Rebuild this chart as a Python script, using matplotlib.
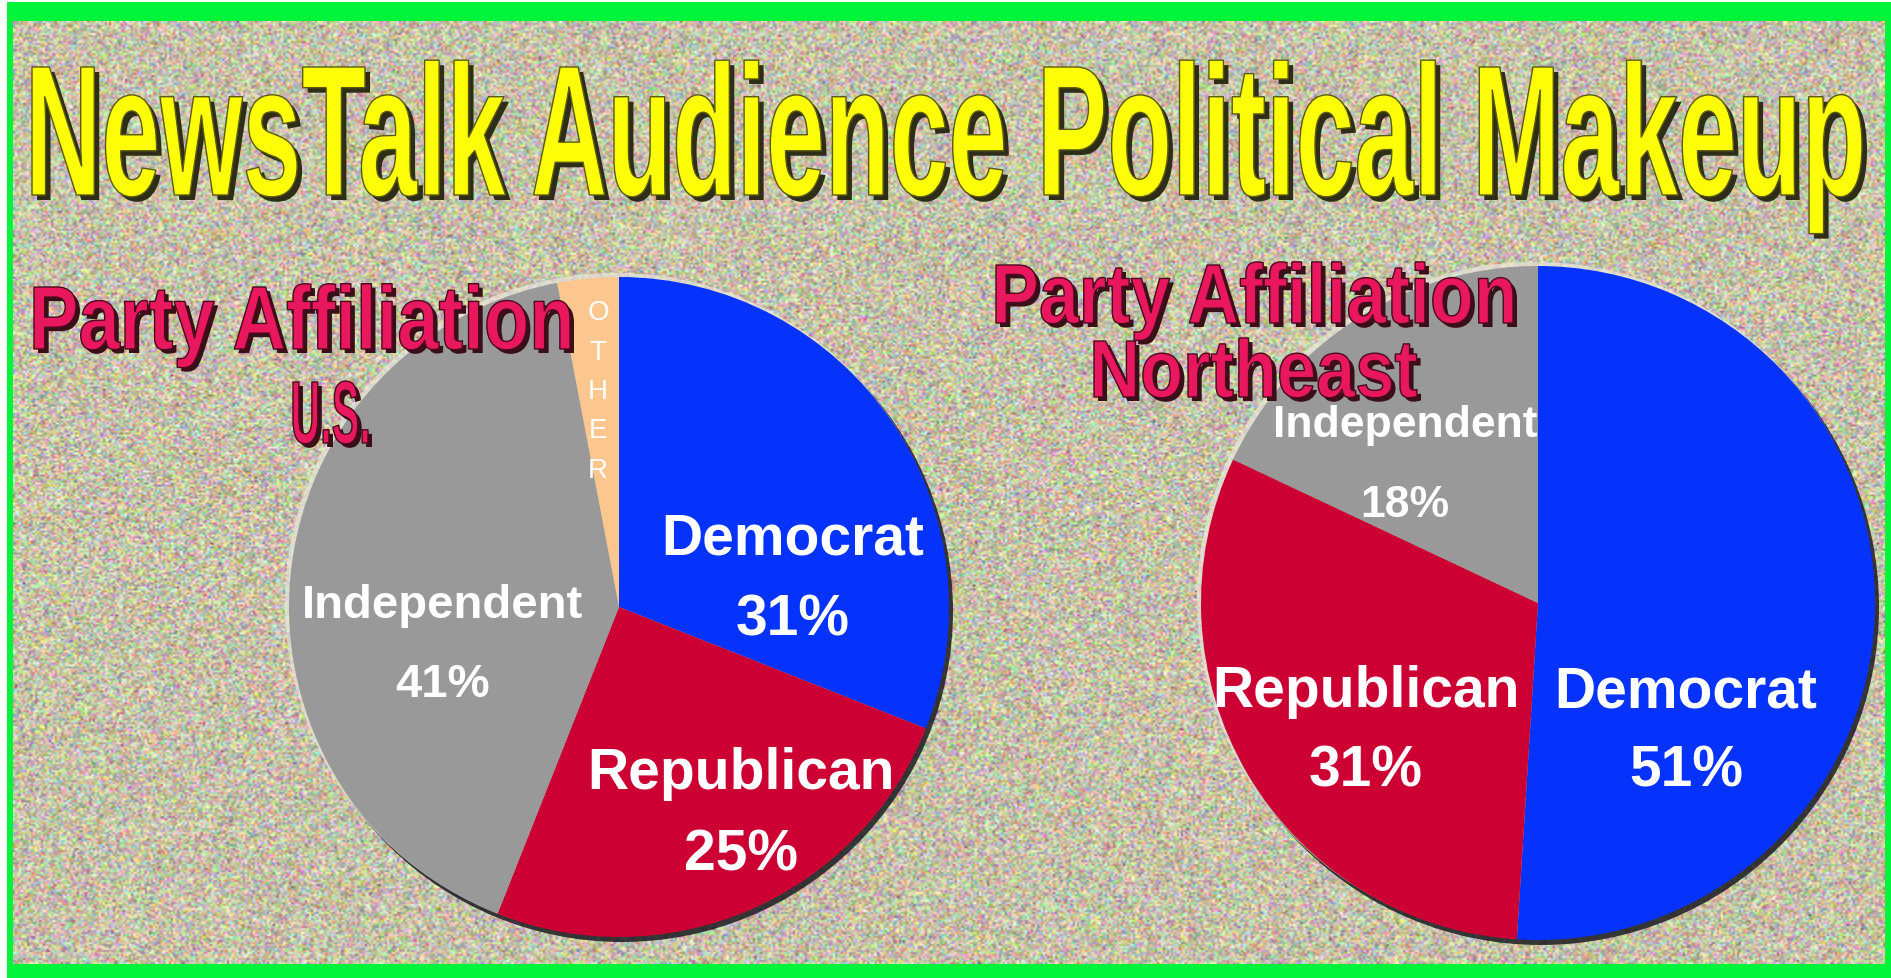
import matplotlib
matplotlib.use('Agg')
import matplotlib.pyplot as plt
import numpy as np
from matplotlib.font_manager import FontProperties
from matplotlib.patches import PathPatch, Circle, Rectangle
from matplotlib.textpath import TextPath
from matplotlib.transforms import Affine2D

W, H = 1891, 979

# party shares, percent
us_parties = ['Democrat', 'Republican', 'Independent', 'Other']
us_share = [31, 25, 41, 3]
ne_parties = ['Democrat', 'Republican', 'Independent']
ne_share = [51, 31, 18]

title = 'NewsTalk Audience Political Makeup'
us_heading = ['Party Affiliation', 'U.S.']
ne_heading = ['Party Affiliation', 'Northeast']

party_colors = {'Democrat': '#0533fb', 'Republican': '#cc0033',
                'Independent': '#999999', 'Other': '#fbc78f'}

# label anchors (fraction of radius from centre, baseline) and font sizes
us_label_pos = {'Democrat': (0.527, 0.161, 0.0, -0.243, 41),
                'Republican': (0.370, -0.548, 0.0, -0.246, 41),
                'Independent': (-0.536, -0.030, 0.0, -0.240, 34)}
ne_label_pos = {'Democrat': (0.439, -0.306, 0.0, -0.237, 41),
                'Republican': (-0.510, -0.306, 0.0, -0.237, 41),
                'Independent': (-0.395, 0.496, 0.0, -0.237, 32)}

bold = FontProperties(family='Liberation Sans', weight='bold')


def banner(ax, text, x0, x1, top, base, face, edge, shade, off=4):
    # stretch a text outline so its caps fill the given pixel box
    tp = TextPath((0, 0), text, size=100, prop=bold)
    ext = tp.get_extents()
    cap = TextPath((0, 0), 'H', size=100, prop=bold).get_extents().height
    sx = (x1 - x0) / ext.width
    sy = (base - top) / cap
    tr = Affine2D().translate(-ext.x0, 0).scale(sx, sy).translate(x0, H - base)
    path = tr.transform_path(tp)
    ax.add_patch(PathPatch(path, fc=shade, ec='none', zorder=5,
                           transform=Affine2D().translate(off, -off) + ax.transData))
    ax.add_patch(PathPatch(path, fc=face, ec=edge, lw=1.0, zorder=6))


def draw_pie(ax, parties, share, cx, cy, r, label_pos):
    cy = H - cy
    ax.add_patch(Circle((cx + 3, cy - 4), r + 1, fc='#1b1b22', ec='none', zorder=1, alpha=0.85))
    ax.add_patch(Circle((cx - 3, cy + 3), r + 1, fc='#e9e6dc', ec='none', zorder=1, alpha=0.7))
    ax.pie(share, colors=[party_colors[p] for p in parties], startangle=90,
           counterclock=False, center=(cx, cy), radius=r,
           wedgeprops=dict(linewidth=0, zorder=2))
    for p, v in zip(parties, share):
        if p in label_pos:
            fx, fy, px, py, fs = label_pos[p]
            ax.text(cx + fx * r, cy + fy * r, p, color='white', fontsize=fs,
                    fontproperties=bold, ha='center', va='baseline', zorder=8)
            ax.text(cx + (fx + px) * r, cy + (fy + py) * r, f'{v}%', color='white',
                    fontsize=fs, fontproperties=bold, ha='center', va='baseline', zorder=8)


fig = plt.figure(figsize=(W / 100, H / 100), dpi=100, facecolor='white')
ax = fig.add_axes([0, 0, 1, 1])
ax.set_axis_off()

# green frame and grainy backdrop (2 px grain)
ax.add_patch(Rectangle((7, 0), W - 7, H - 3, fc='#00f53a', ec='none', zorder=0))
rng = np.random.default_rng(3)
tex = np.array([0.78, 0.76, 0.66]) + rng.normal(0, 0.14, (472, 936, 3))
tex += rng.normal(0, 0.05, (472, 936, 1))
ax.imshow(np.clip(tex, 0, 1), extent=(13, 1885, H - 965, H - 22), zorder=0.5,
          interpolation='bilinear', aspect='auto')

draw_pie(ax, us_parties, us_share, 619, 608, 330, us_label_pos)
draw_pie(ax, ne_parties, ne_share, 1538, 604, 337, ne_label_pos)

# stacked letters for the thin slice
for i, ch in enumerate(us_parties[3].upper()):
    ax.text(598, H - (313 + i * 39.5), ch, color='white', fontsize=20,
            family='Liberation Sans', ha='center', va='center', zorder=8)

banner(ax, title, 32, 1862, 68, 196, '#fdfd08', '#5a5a10', '#2e2e18', off=5)
banner(ax, us_heading[0], 34, 570, 288, 350, '#e8175e', '#4a0a1e', '#3a1018')
banner(ax, us_heading[1], 293, 368, 383, 444, '#e8175e', '#4a0a1e', '#3a1018')
banner(ax, ne_heading[0], 996, 1513, 266, 324, '#e8175e', '#4a0a1e', '#3a1018')
banner(ax, ne_heading[1], 1094, 1417, 342, 398, '#e8175e', '#4a0a1e', '#3a1018')

ax.set_xlim(0, W)
ax.set_ylim(0, H)

fig.savefig('out.png', dpi=100, facecolor='white')
